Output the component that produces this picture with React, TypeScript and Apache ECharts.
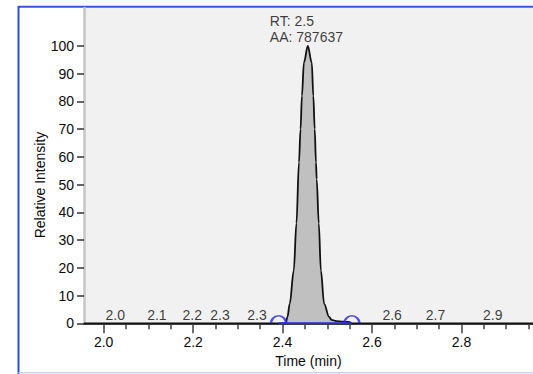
import React, { useEffect, useRef } from "react";
import * as echarts from "echarts";

// Chromatogram trace (time in min, relative intensity %)
const traceTimes = [1.956, 2.1, 2.3, 2.407, 2.411, 2.416, 2.425, 2.431, 2.4367, 2.4402, 2.4433, 2.4477, 2.4565, 2.4653, 2.4688, 2.4719, 2.4747, 2.4763, 2.481, 2.4857, 2.493, 2.504, 2.51, 2.52, 2.535, 2.548, 2.555, 2.7, 2.96];
const traceIntensity = [0, 0, 0, 0, 2.3, 7, 19, 36, 58, 70, 82, 94, 100, 94, 82, 70, 58, 52, 36, 19, 7, 2.3, 1.2, 0.8, 0.6, 0.5, 0, 0, 0];

// Small noise peaks labelled with their retention time
const noiseTimes = [2.026, 2.119, 2.198, 2.26, 2.343, 2.645, 2.742, 2.87];
const noiseLabels = ["2.0", "2.1", "2.2", "2.3", "2.3", "2.6", "2.7", "2.9"];

// Integration baseline start / end
const baseTimes = [2.391, 2.555];

// Apex annotation
const apexTime = 2.4565;
const apexIntensity = 100;
const apexLines = ["RT: 2.5", "AA: 787637"];

// Axis ticks
const xMajorTicks = [2.0, 2.2, 2.4, 2.6, 2.8];
const xMinorTicks = [2.05, 2.1, 2.15, 2.25, 2.3, 2.35, 2.45, 2.5, 2.55, 2.65, 2.7, 2.75, 2.85, 2.9, 2.95];
const yTicks = [0, 10, 20, 30, 40, 50, 60, 70, 80, 90, 100];

const FONT = "'Liberation Sans', Arial, sans-serif";
const TXT = "#0a0a0a";

export default function App() {
  const ref = useRef<HTMLDivElement>(null);
  useEffect(() => {
    if (!ref.current) return;
    const chart = echarts.init(ref.current, null, { renderer: "svg" });
    const xMin = 1.956;
    const xMax = 2.96;
    const grid = { left: 84, top: 8, width: 457, height: 315.3 };
    chart.setOption({
      animation: false,
      textStyle: { fontFamily: FONT },
      grid: { ...grid, show: true, backgroundColor: "#f1f1f1", borderWidth: 0 },
      xAxis: [
        {
          type: "value",
          min: xMin,
          max: xMax,
          position: "bottom",
          axisLine: { show: true, lineStyle: { color: "#404040", width: 2 } },
          axisTick: { show: true, customValues: xMajorTicks, length: 10, lineStyle: { color: "#404040", width: 1.5 } },
          axisLabel: {
            show: true,
            customValues: xMajorTicks,
            formatter: (v: number) => v.toFixed(1),
            fontSize: 14,
            color: TXT,
            fontFamily: FONT,
            margin: 12,
          },
          splitLine: { show: false },
          name: "Time (min)",
          nameLocation: "middle",
          nameGap: 31,
          nameTextStyle: { fontSize: 14, color: TXT, fontFamily: FONT },
        },
        {
          type: "value",
          min: xMin,
          max: xMax,
          position: "bottom",
          axisLine: { show: false },
          axisTick: { show: true, customValues: xMinorTicks, length: 6, lineStyle: { color: "#404040", width: 1.5 } },
          axisLabel: { show: false },
          splitLine: { show: false },
        },
      ],
      yAxis: {
        type: "value",
        min: 0,
        max: 113.7,
        interval: 10,
        axisLine: { show: true, lineStyle: { color: "#c6c6c6", width: 2.5 } },
        axisTick: { show: true, customValues: yTicks, length: 7, lineStyle: { color: "#333", width: 1.5 } },
        axisLabel: { show: true, customValues: yTicks, fontSize: 14, color: TXT, fontFamily: FONT, margin: 10 },
        splitLine: { show: false },
      },
      graphic: [
        {
          type: "text",
          x: 40,
          y: 185,
          rotation: Math.PI / 2,
          style: {
            text: "Relative Intensity",
            fontSize: 14,
            fontFamily: FONT,
            fill: TXT,
            align: "center",
            verticalAlign: "middle",
          },
        },
        { type: "line", shape: { x1: 18.5, y1: 6.7, x2: 533, y2: 6.7 }, style: { stroke: "#3355d6", lineWidth: 2 } },
        { type: "line", shape: { x1: 18.5, y1: 6, x2: 18.5, y2: 374 }, style: { stroke: "#2450e0", lineWidth: 2 } },
        { type: "line", shape: { x1: 18.5, y1: 372.7, x2: 533, y2: 372.7 }, style: { stroke: "#c9d5ee", lineWidth: 1.5 } },
      ],
      series: [
        {
          type: "line",
          xAxisIndex: 0,
          data: traceTimes.map((t, i) => [t, traceIntensity[i]]),
          symbol: "none",
          smooth: 0.35,
          smoothMonotone: "x",
          lineStyle: { color: "#111", width: 1.8 },
          areaStyle: { color: "#c0c0c0", opacity: 1 },
          z: 2,
        },
        {
          type: "line",
          xAxisIndex: 0,
          data: baseTimes.map((t) => [t, 0]),
          symbol: "none",
          lineStyle: { color: "#2a2ae6", width: 2 },
          z: 3,
        },
        {
          type: "scatter",
          xAxisIndex: 0,
          data: baseTimes.map((t) => [t, 0]),
          symbol: "path://M0,10 A10,10 0 0 1 20,10",
          symbolSize: [15, 7.5],
          symbolOffset: [0, -3.75],
          itemStyle: { color: "rgba(0,0,0,0)", borderColor: "#2a2ae6", borderWidth: 2 },
          z: 4,
        },
        {
          type: "scatter",
          xAxisIndex: 0,
          data: noiseTimes.map((t, i) => ({ value: [t, 0], name: noiseLabels[i] })),
          symbolSize: 1,
          itemStyle: { color: "rgba(0,0,0,0)" },
          label: {
            show: true,
            position: "top",
            distance: 1,
            formatter: (p: any) => p.name,
            fontSize: 14,
            color: TXT,
            fontFamily: FONT,
          },
          z: 5,
        },
        {
          type: "scatter",
          xAxisIndex: 0,
          data: [[apexTime, apexIntensity]],
          symbolSize: 1,
          itemStyle: { color: "rgba(0,0,0,0)" },
          label: {
            show: true,
            position: "top",
            distance: 0,
            align: "left",
            offset: [-38, 0],
            formatter: () => apexLines.join("\n"),
            fontSize: 14,
            lineHeight: 16.6,
            color: TXT,
            fontFamily: FONT,
          },
          z: 5,
        },
      ],
    });
    return () => chart.dispose();
  }, []);
  return (
    <div
      ref={ref}
      style={{ position: "absolute", left: 0, top: 0, width: 533, height: 374, overflow: "hidden" }}
    />
  );
}
